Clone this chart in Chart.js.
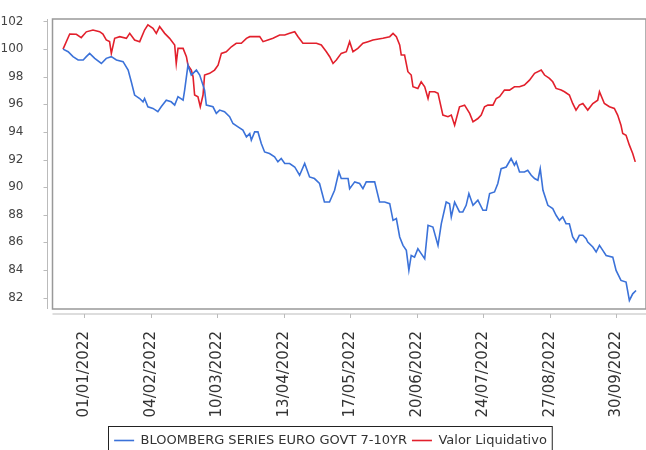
<!DOCTYPE html>
<html>
<head>
<meta charset="utf-8">
<script src="https://cdn.jsdelivr.net/npm/chart.js@4.4.1/dist/chart.umd.min.js"></script>
<style>
  html, body { margin: 0; padding: 0; background: #fff; }
  #wrap { width: 646px; height: 450px; }
</style>
</head>
<body>
<div id="wrap"><canvas id="chart" width="646" height="450"></canvas></div>
<script>
// days counted from 01/01/2022
var xTickDays = [0, 34, 68, 102, 136, 170, 204, 238, 272];
var xTickLabels = ['01/01/2022', '04/02/2022', '10/03/2022', '13/04/2022', '17/05/2022',
                   '20/06/2022', '24/07/2022', '27/08/2022', '30/09/2022'];
var yTicks = [82, 84, 86, 88, 90, 92, 94, 96, 98, 100, 102];

var seriesNames = ['BLOOMBERG SERIES EURO GOVT 7-10YR', 'Valor Liquidativo'];

var bloombergDays = [-10.9, -8.3, -5.8, -3.2, -0.6, 1.0, 2.7, 5.3, 8.7, 11.2, 13.8, 16.4, 19.8, 22.4, 24.0, 25.7,
  28.3, 30.0, 30.8, 32.5, 35.1, 37.6, 39.3, 41.9, 44.4, 46.2, 47.9, 50.5, 51.3, 53.0, 54.7, 57.3, 59.0, 61.5,
  62.4, 65.8, 67.5, 69.2, 71.7, 74.3, 76.0, 78.6, 81.1, 82.9, 84.6, 85.4, 87.1, 88.8, 90.5, 92.2, 94.7, 97.3,
  99.0, 100.7, 102.5, 105.0, 107.6, 110.1, 112.7, 115.2, 117.7, 120.3, 122.8, 125.4, 128.0, 130.2, 131.4,
  134.9, 135.7, 138.3, 140.8, 142.5, 144.2, 146.8, 148.5, 151.0, 153.6, 156.2, 157.9, 159.6, 161.3, 163.0,
  164.7, 166.0, 167.2, 168.9, 170.6, 172.3, 174.1, 175.8, 178.3, 180.9, 182.6, 185.1, 186.8, 187.7, 189.4,
  191.9, 193.6, 195.3, 196.7, 198.8, 201.3, 203.9, 205.6, 207.3, 209.8, 211.5, 213.2, 215.8, 218.3, 220.0,
  220.9, 222.6, 225.1, 226.8, 228.6, 230.3, 232.0, 233.2, 234.6, 237.1, 239.6, 241.3, 243.0, 244.7, 246.4,
  248.1, 249.8, 251.5, 253.2, 255.0, 256.7, 257.5, 260.1, 261.8, 263.5, 265.2, 266.9, 270.3, 272.0, 274.5,
  277.1, 278.8, 280.5, 282.2];
var bloombergVals = [100.0, 99.81, 99.45, 99.21, 99.21, 99.45, 99.69, 99.33, 98.96, 99.33, 99.45, 99.21, 99.09,
  98.48, 97.63, 96.67, 96.42, 96.18, 96.42, 95.82, 95.70, 95.46, 95.82, 96.30, 96.18, 95.94, 96.55, 96.30,
  97.03, 98.84, 98.12, 98.48, 98.12, 97.03, 95.94, 95.82, 95.34, 95.58, 95.46, 95.10, 94.61, 94.37, 94.13,
  93.64, 93.88, 93.40, 94.00, 94.00, 93.16, 92.55, 92.43, 92.19, 91.83, 92.07, 91.71, 91.71, 91.46, 90.86,
  91.71, 90.74, 90.62, 90.26, 88.92, 88.92, 89.77, 91.10, 90.62, 90.62, 89.89, 90.38, 90.26, 89.89, 90.38,
  90.38, 90.38, 88.92, 88.92, 88.80, 87.59, 87.72, 86.39, 85.78, 85.42, 83.97, 85.05, 84.93, 85.54, 85.18,
  84.81, 87.23, 87.11, 85.78, 87.35, 88.92, 88.80, 87.84, 88.92, 88.20, 88.20, 88.68, 89.53, 88.68, 89.05,
  88.32, 88.32, 89.53, 89.65, 90.26, 91.34, 91.46, 92.07, 91.59, 91.83, 91.10, 91.10, 91.22, 90.86, 90.62,
  90.50, 91.34, 89.77, 88.68, 88.44, 87.96, 87.59, 87.84, 87.35, 87.35, 86.39, 86.02, 86.51, 86.51, 86.26,
  86.02, 85.66, 85.30, 85.78, 85.42, 85.05, 84.93, 83.97, 83.24, 83.12, 81.79, 82.27, 82.51];

var valorDays = [-10.9, -7.5, -4.1, -1.6, 1.0, 4.4, 7.8, 9.5, 11.2, 12.9, 13.8, 15.5, 18.1, 21.5, 23.2, 25.7,
  28.3, 30.8, 32.5, 35.1, 36.8, 38.5, 41.1, 43.6, 46.2, 47.0, 47.9, 50.5, 52.2, 53.0, 54.7, 55.6, 56.4, 58.1,
  59.3, 60.7, 61.5, 64.1, 66.6, 68.4, 70.1, 72.6, 75.2, 77.7, 80.3, 82.9, 84.6, 89.7, 91.4, 93.9, 96.5, 99.9,
  102.5, 105.0, 107.6, 109.3, 111.8, 115.2, 118.7, 121.2, 123.8, 125.5, 127.2, 128.9, 131.4, 134.0, 135.7,
  137.4, 139.9, 142.5, 145.1, 147.6, 152.7, 156.2, 157.9, 159.6, 161.3, 162.1, 163.8, 165.5, 167.2, 168.1,
  170.6, 172.3, 174.1, 175.8, 176.6, 179.2, 180.9, 183.4, 186.0, 187.7, 189.4, 191.9, 194.5, 197.1, 198.8,
  201.3, 203.0, 204.7, 206.4, 209.0, 210.7, 212.4, 214.9, 217.5, 220.0, 222.6, 225.1, 227.7, 230.3, 233.7,
  235.4, 237.9, 239.6, 241.3, 243.9, 245.6, 248.1, 249.8, 251.5, 253.2, 255.0, 257.5, 260.1, 262.6, 263.5,
  266.0, 268.6, 271.1, 272.8, 274.5, 275.4, 277.1, 278.8, 280.5, 281.8];
var valorVals = [100.0, 101.09, 101.07, 100.83, 101.25, 101.38, 101.26, 101.09, 100.66, 100.54, 99.69, 100.78,
  100.90, 100.78, 101.14, 100.66, 100.54, 101.38, 101.75, 101.50, 101.14, 101.63, 101.14, 100.78, 100.30,
  98.96, 100.05, 100.05, 99.45, 98.84, 98.48, 98.00, 96.67, 96.55, 95.82, 96.67, 98.12, 98.24, 98.48, 98.84,
  99.69, 99.81, 100.17, 100.42, 100.42, 100.78, 100.90, 100.90, 100.54, 100.66, 100.78, 101.02, 101.02,
  101.14, 101.26, 100.90, 100.42, 100.42, 100.42, 100.30, 99.81, 99.45, 98.96, 99.21, 99.69, 99.81, 100.54,
  99.81, 100.05, 100.42, 100.54, 100.66, 100.78, 100.90, 101.14, 100.90, 100.30, 99.57, 99.57, 98.36, 98.12,
  97.27, 97.15, 97.63, 97.27, 96.42, 96.91, 96.91, 96.79, 95.22, 95.10, 95.22, 94.49, 95.82, 95.94, 95.34,
  94.73, 94.97, 95.22, 95.82, 95.94, 95.94, 96.42, 96.55, 97.03, 97.03, 97.27, 97.27, 97.39, 97.75, 98.24,
  98.48, 98.12, 97.88, 97.63, 97.15, 97.03, 96.91, 96.67, 96.06, 95.58, 95.94, 96.06, 95.58, 96.06, 96.30,
  96.91, 96.06, 95.82, 95.70, 95.22, 94.49, 93.88, 93.76, 93.04, 92.43, 91.83];

function toPoints(days, vals) {
  return days.map(function (d, i) { return { x: d, y: vals[i] }; });
}

// plot outline, offset axis lines, tick marks and the legend box
var framePlugin = {
  id: 'frame',
  afterDraw: function (chart) {
    var ctx = chart.ctx, a = chart.chartArea;
    var xs = chart.scales.x, ys = chart.scales.y;
    ctx.save();
    ctx.strokeStyle = '#999';
    ctx.lineWidth = 1.5;
    ctx.strokeRect(a.left, a.top, a.right - a.left, a.bottom - a.top);

    ctx.strokeStyle = '#bbb';
    ctx.lineWidth = 1;
    ctx.beginPath();
    ctx.moveTo(a.left - 5, a.top);
    ctx.lineTo(a.left - 5, a.bottom);
    ys.ticks.forEach(function (t) {
      var py = Math.round(ys.getPixelForValue(t.value)) + 0.5;
      ctx.moveTo(a.left - 9, py);
      ctx.lineTo(a.left - 5, py);
    });
    ctx.moveTo(a.left, a.bottom + 5);
    ctx.lineTo(a.right, a.bottom + 5);
    xs.ticks.forEach(function (t) {
      var px = Math.round(xs.getPixelForValue(t.value)) + 0.5;
      ctx.moveTo(px, a.bottom + 5);
      ctx.lineTo(px, a.bottom + 9);
    });
    ctx.stroke();

    var boxes = chart.legend.legendHitBoxes;
    if (boxes && boxes.length) {
      var first = boxes[0], last = boxes[boxes.length - 1];
      var left = first.left - 6;
      var right = last.left + last.width + 5;
      var top = first.top - 8;
      ctx.strokeStyle = '#222';
      ctx.lineWidth = 1;
      ctx.strokeRect(Math.round(left) + 0.5, Math.round(top) + 0.5, right - left, chart.height + 10 - top);
    }
    ctx.restore();
  }
};

new Chart(document.getElementById('chart'), {
  type: 'line',
  data: {
    datasets: [{
      label: seriesNames[0],
      data: toPoints(bloombergDays, bloombergVals),
      borderColor: '#3b72d9',
      backgroundColor: '#3b72d9',
      borderWidth: 1.6,
      pointRadius: 0,
      tension: 0
    }, {
      label: seriesNames[1],
      data: toPoints(valorDays, valorVals),
      borderColor: '#e2202c',
      backgroundColor: '#e2202c',
      borderWidth: 1.6,
      pointRadius: 0,
      tension: 0
    }]
  },
  options: {
    responsive: false,
    animation: false,
    layout: { padding: { top: 19, left: 0, right: -15, bottom: -7 } },
    plugins: {
      title: { display: false },
      tooltip: { enabled: false },
      legend: {
        position: 'bottom',
        labels: {
          usePointStyle: true,
          pointStyle: 'line',
          pointStyleWidth: 20,
          padding: 5,
          color: '#333',
          font: { family: 'DejaVu Sans', size: 13 }
        }
      }
    },
    scales: {
      x: {
        type: 'linear',
        min: -16.3,
        max: 287.3,
        grid: { display: false },
        border: { display: false },
        afterBuildTicks: function (scale) {
          scale.ticks = xTickDays.map(function (d) { return { value: d }; });
        },
        afterFit: function (scale) {
          scale.height = 120;
          scale.paddingLeft = 0;
          scale.paddingRight = 0;
        },
        ticks: {
          autoSkip: false,
          minRotation: 90,
          maxRotation: 90,
          padding: 14,
          color: '#333',
          font: { family: 'DejaVu Sans', size: 15 },
          callback: function (value) {
            var i = xTickDays.indexOf(value);
            return i >= 0 ? xTickLabels[i] : '';
          }
        }
      },
      y: {
        min: 81.17,
        max: 102.18,
        grid: { display: false },
        border: { display: false },
        afterBuildTicks: function (scale) {
          scale.ticks = yTicks.map(function (v) { return { value: v }; });
        },
        afterFit: function (scale) {
          scale.width = 52.5;
          scale.paddingTop = 0;
          scale.paddingBottom = 0;
        },
        ticks: {
          padding: 21,
          color: '#444',
          font: { family: 'DejaVu Sans', size: 12 }
        }
      }
    }
  },
  plugins: [framePlugin]
});
</script>
</body>
</html>
